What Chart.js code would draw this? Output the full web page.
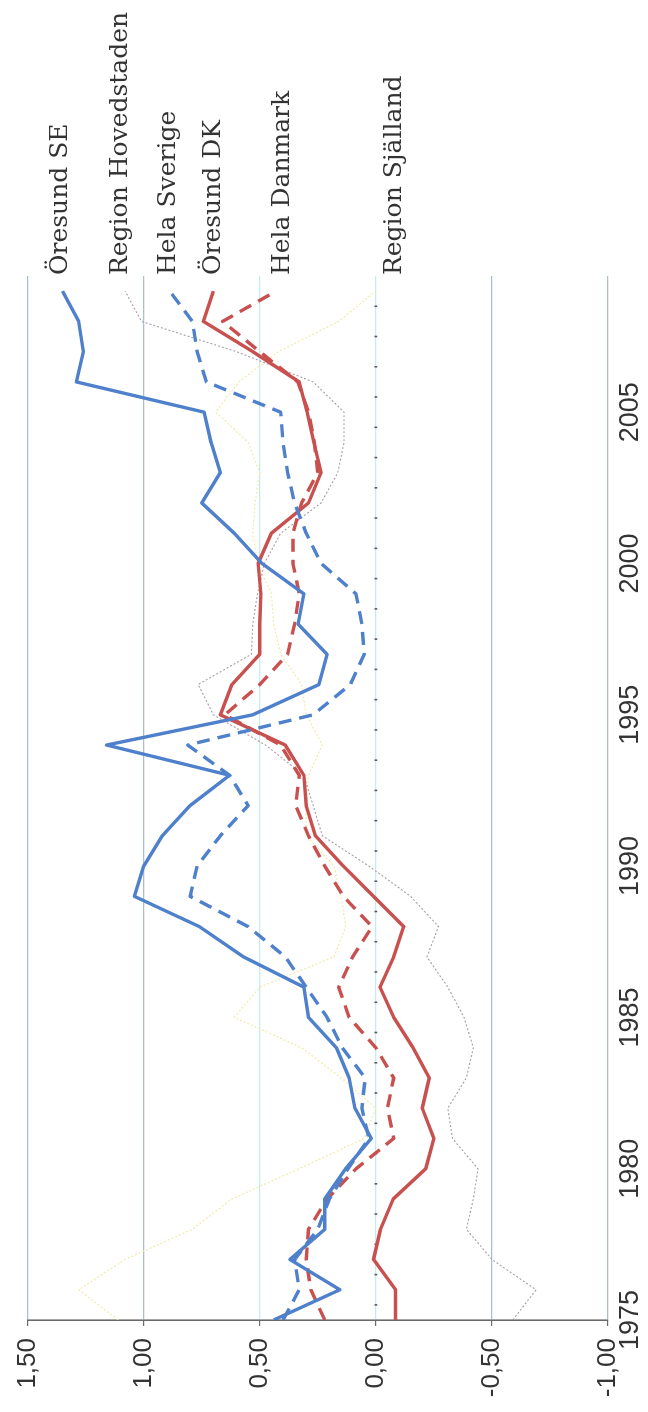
<!DOCTYPE html>
<html>
<head>
<meta charset="utf-8">
<script src="https://cdn.jsdelivr.net/npm/chart.js@4.4.1/dist/chart.umd.min.js"></script>
<style>
  html, body { margin: 0; padding: 0; background: #ffffff; overflow: hidden; }
  body { width: 648px; height: 1412px; position: relative; }
  #wrap {
    position: absolute; left: 0; top: 0;
    width: 1412px; height: 648px;
    transform-origin: 0 0;
    transform: translateY(1412px) rotate(-90deg);
  }
</style>
</head>
<body>
<div id="wrap"><canvas id="c" width="1412" height="648"></canvas></div>
<script>
// ---- data ----
const years = [1975,1976,1977,1978,1979,1980,1981,1982,1983,1984,1985,1986,1987,1988,1989,1990,1991,
               1992,1993,1994,1995,1996,1997,1998,1999,2000,2001,2002,2003,2004,2005,2006,2007,2008];
const labelYear = 2009;

const seriesNames = ["Öresund SE", "Region Hovedstaden", "Hela Sverige", "Öresund DK", "Hela Danmark", "Region Själland"];

const oresundSE = [0.44,0.155,0.37,0.22,0.22,0.13,0.02,0.09,0.115,0.17,0.29,0.31,0.57,0.76,1.04,1.00,0.92,
                   0.80,0.63,1.16,0.53,0.245,0.21,0.335,0.31,0.49,0.61,0.75,0.67,0.71,0.74,1.29,1.26,1.28];
const regionHovedstaden = [-0.59,-0.69,-0.50,-0.39,-0.42,-0.44,-0.33,-0.31,-0.39,-0.42,-0.38,-0.31,-0.22,-0.27,-0.15,0.03,0.23,
                   0.27,0.31,0.475,0.70,0.765,0.536,0.53,0.51,0.48,0.41,0.236,0.164,0.137,0.137,0.27,0.60,1.01];
const helaSverige = [0.40,0.33,0.35,0.25,0.20,0.12,0.03,0.06,0.046,0.145,0.21,0.30,0.39,0.55,0.80,0.77,0.67,
                   0.55,0.63,0.81,0.27,0.11,0.05,0.06,0.086,0.236,0.30,0.35,0.38,0.40,0.41,0.73,0.77,0.79];
const oresundDK = [-0.085,-0.085,0.01,-0.02,-0.075,-0.215,-0.25,-0.20,-0.23,-0.16,-0.077,-0.018,-0.077,-0.12,0.01,0.14,0.26,
                   0.30,0.31,0.39,0.67,0.62,0.50,0.50,0.495,0.507,0.45,0.29,0.236,0.267,0.296,0.33,0.53,0.743];
const helaDanmark = [0.22,0.28,0.30,0.29,0.21,0.085,-0.077,-0.05,-0.077,0.0,0.115,0.16,0.10,0.016,0.14,0.22,0.29,
                   0.345,0.33,0.41,0.65,0.50,0.38,0.35,0.33,0.357,0.357,0.32,0.25,0.265,0.29,0.336,0.50,0.66];
const regionSjalland = [1.11,1.28,1.08,0.79,0.62,0.33,0.05,0.0,0.15,0.32,0.61,0.50,0.18,0.13,0.15,0.18,0.30,
                   0.30,0.29,0.23,0.30,0.32,0.41,0.44,0.45,0.51,0.53,0.52,0.50,0.55,0.69,0.59,0.42,0.16];

// end points of the leader lines (at labelYear) and the label text positions (value units)
const leaderEnds  = [1.35, 1.08, 0.888, 0.70, 0.43, 0.0];
const labelValues = [1.358, 1.10, 0.892, 0.699, 0.40, -0.081];

const valueTicks  = [-1, -0.5, 0, 0.5, 1, 1.5];
const valueLabels = ["-1,00", "-0,50", "0,00", "0,50", "1,00", "1,50"];
const yearTicks   = [1975, 1980, 1985, 1990, 1995, 2000, 2005];

// ---- styles ----
const BLUE = "#4f80cb";
const RED = "#c8504f";
const styles = [
  { color: BLUE, width: 3.4, dash: [] },
  { color: "#a89ca8", width: 1.1, dash: [2, 2] },
  { color: BLUE, width: 3.4, dash: [13, 8] },
  { color: RED, width: 3.4, dash: [] },
  { color: RED, width: 3.4, dash: [13, 8] },
  { color: "#f2eaa6", width: 1.2, dash: [2, 2] }
];
const seriesValues = [oresundSE, regionHovedstaden, helaSverige, oresundDK, helaDanmark, regionSjalland];

function buildPoints(vals, endVal) {
  return years.map((yr, i) => ({ x: yr, y: vals[i] })).concat([{ x: labelYear, y: endVal }]);
}

// draw order: put Öresund SE on top
const drawOrder = [0, 2, 3, 4, 1, 5];
const datasets = seriesNames.map((name, k) => ({
  label: name,
  data: buildPoints(seriesValues[k], leaderEnds[k]),
  borderColor: styles[k].color,
  borderWidth: styles[k].width,
  borderDash: styles[k].dash,
  borderCapStyle: "butt",
  borderJoinStyle: "round",
  pointRadius: 0,
  tension: 0,
  fill: false,
  order: drawOrder.indexOf(k)
}));

const zeroTicksPlugin = {
  id: "zeroTicks",
  beforeDatasetsDraw(chart) {
    const xs = chart.scales.x, ys = chart.scales.y, ctx = chart.ctx;
    const y0 = ys.getPixelForValue(0);
    ctx.save();
    ctx.strokeStyle = "#5a5a5a";
    ctx.lineWidth = 1.6;
    for (let i = 0; i < years.length; i++) {
      const px = xs.getPixelForValue(years[i] + 0.5);
      ctx.beginPath();
      ctx.moveTo(px, y0 - 1.4);
      ctx.lineTo(px, y0 + 1.4);
      ctx.stroke();
    }
    ctx.restore();
  }
};

const seriesLabelPlugin = {
  id: "seriesLabels",
  afterDatasetsDraw(chart) {
    const ys = chart.scales.y, ctx = chart.ctx;
    ctx.save();
    ctx.font = "25px 'DejaVu Serif'";
    ctx.fillStyle = "#333333";
    ctx.textAlign = "left";
    ctx.textBaseline = "middle";
    seriesNames.forEach((name, k) => {
      ctx.fillText(name, chart.chartArea.right + 1, ys.getPixelForValue(labelValues[k]));
    });
    ctx.restore();
  }
};

new Chart(document.getElementById("c"), {
  type: "line",
  data: { datasets },
  options: {
    responsive: false,
    devicePixelRatio: 1,
    animation: false,
    events: [],
    layout: { padding: { top: 25, right: 276, left: 0, bottom: 0 } },
    plugins: { legend: { display: false }, tooltip: { enabled: false } },
    scales: {
      x: {
        type: "linear",
        min: 1975,
        max: 2009.5,
        afterBuildTicks(scale) { scale.ticks = yearTicks.map(v => ({ value: v })); },
        afterFit(scale) { scale.height = 40; },
        grid: { display: false, drawTicks: false },
        border: { display: false },
        ticks: {
          autoSkip: false,
          maxRotation: 0,
          padding: 6,
          color: "#333333",
          font: { family: "'Liberation Sans'", size: 27 },
          callback: (v) => String(v)
        }
      },
      y: {
        type: "linear",
        min: -1,
        max: 1.5,
        afterBuildTicks(scale) { scale.ticks = valueTicks.map(v => ({ value: v })); },
        afterFit(scale) { scale.width = 92; },
        grid: {
          color: (c) => (c.tick && (c.tick.value === 0 || c.tick.value === 0.5)) ? "#c4ebee" : "#a9bdd9",
          lineWidth: 1.2,
          tickLength: 6,
          tickColor: "#6a6a6a",
          drawTicks: true
        },
        border: { display: true, color: "#6a6a6a", width: 1.6 },
        ticks: {
          padding: 12,
          color: "#333333",
          font: { family: "'Liberation Sans'", size: 26 },
          callback: (v) => valueLabels[valueTicks.indexOf(v)]
        }
      }
    }
  },
  plugins: [zeroTicksPlugin, seriesLabelPlugin]
});
</script>
</body>
</html>
